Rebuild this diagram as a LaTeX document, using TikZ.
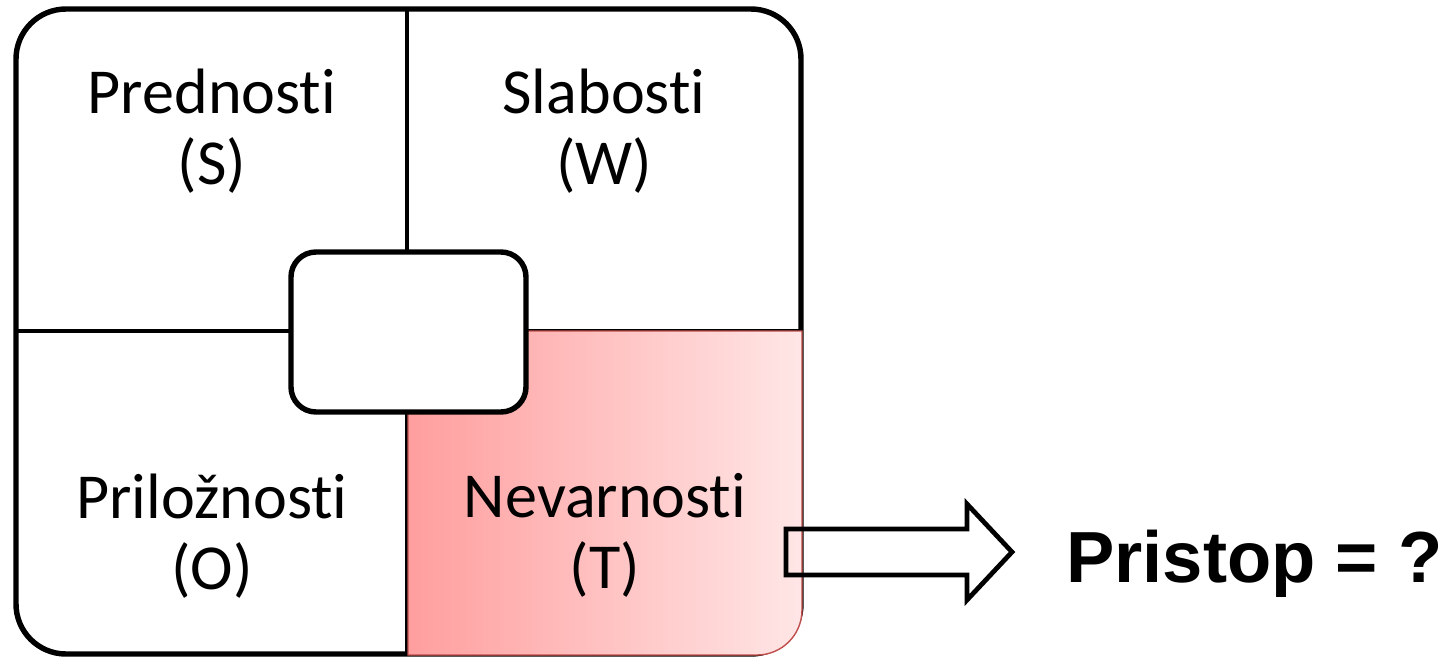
\documentclass[tikz,border=0pt]{standalone}
\usepackage{fontspec}
\setmainfont{Carlito}[Ligatures={NoCommon}, RawFeature={-calt}]
\newfontfamily\arialfont{Liberation Sans}
\usetikzlibrary{positioning}
\definecolor{threatdark}{RGB}{255,158,158}
\definecolor{threatlight}{RGB}{255,230,230}
\definecolor{threatline}{RGB}{192,80,77}
\tikzstyle{quadlabel} = [align=center, font=\fontsize{36.5}{40}\selectfont, anchor=base, inner sep=0pt]
\tikzstyle{frame} = [draw, line width=3.1pt]
\tikzstyle{divider} = [draw, line width=2.5pt]

\begin{document}
\begin{tikzpicture}[x=0.02cm, y=-0.02cm]
    \useasboundingbox (0,0) rectangle (1455,657);

    % outer matrix and dividers
    \draw [frame, rounded corners=1cm] (16,9) rectangle (801,654);
    \draw [divider] (16,331) -- (801,331);
    \draw [divider] (407,9) -- (407,654);

    % highlighted quadrant
    \path [left color=threatdark, right color=threatlight, draw=threatline, line width=0.8pt]
        (408,331) -- (802,331) -- (802,610) arc[start angle=0, end angle=-90, radius=0.9cm]
        -- (408,655) -- cycle;

    % centre box
    \draw [frame, fill=white, rounded corners=0.5cm] (291,252) rectangle (526,412);

    \node (strengths) [quadlabel] at (212,184) {Prednos{}ti\\(S)};
    \node (weaknesses) [quadlabel] at (604,184) {Slabos{}ti\\(W)};
    \node (opportunities) [quadlabel] at (212,589) {Priložnos{}ti\\(O)};
    \node (threats) [quadlabel] at (605,588) {Nevarnos{}ti\\(T)};

    % block arrow
    \draw [line width=2.7pt, line join=miter]
        (786,529) -- (967,529) -- (967,504) -- (1012,552) -- (967,600)
        -- (967,575) -- (786,575) -- cycle;

    \node (approach) [anchor=base west, inner sep=0pt, font=\arialfont\bfseries\fontsize{41.2}{48}\selectfont]
        at (1066,582) {Pristop = ?};
\end{tikzpicture}
\end{document}
